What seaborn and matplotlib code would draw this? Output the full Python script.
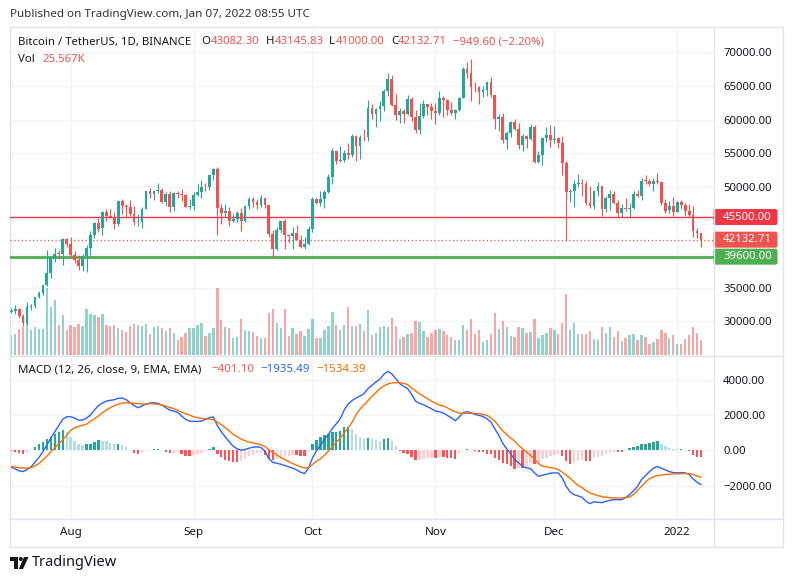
import matplotlib
matplotlib.use("Agg")
import matplotlib.pyplot as plt
import matplotlib.dates as mdates
import numpy as np
import pandas as pd
import seaborn as sns
from matplotlib.lines import Line2D
from matplotlib.patches import FancyBboxPatch, Polygon, Ellipse

# ---- values (BTCUSDT daily, Binance) ----
dates = pd.date_range("2021-07-17", "2022-01-07", freq="D")

opens = [
    31383, 31520, 31778, 30839, 29791, 32144, 32288, 33634, 34258, 35381, 37237, 39457, 40019, 40016, 42207,
    41461, 39850, 39146, 38208, 39744, 40866, 42833, 44614, 43794, 46280, 45596, 45553, 44429, 47833, 47110,
    47015, 45937, 44687, 44741, 46763, 49339, 48906, 49322, 49546, 47707, 48960, 46942, 49058, 48897, 48768, 46970,
    47100, 48810, 49247, 50000, 49918, 51757, 52666, 46864, 46049, 46395, 44842, 45174, 46026, 44950, 47103,
    48121, 47737, 47299, 48292, 47241, 43016, 40734, 43546, 44866, 42810, 42670, 43160, 42148, 41026, 41522,
    43790, 48165, 47658, 48233, 49244, 51494, 55339, 53802, 53930, 54963, 54691, 57485, 56006, 57370, 57347,
    61673, 60875, 61529, 62006, 64280, 66002, 62193, 60688, 61286, 60852, 63079, 60328, 58413, 60575, 62253, 61859,
    61300, 60911, 63220, 62896, 61396, 60941, 61470, 63274, 67526, 66947, 64883, 64774, 64122, 64380, 65520,
    63606, 60059, 60345, 56892, 58057, 59707, 58617, 56247, 57542, 57139, 58961, 53723, 54716, 57274, 57777,
    56950, 57185, 56485, 53602, 49153, 49397, 50441, 50589, 50471, 47536, 47141, 49389, 50053, 46702, 48336,
    48864, 47632, 46134, 46834, 46682, 46914, 48887, 48588, 50839, 50820, 50428, 50802, 50679, 47623, 46491, 47120,
    46217, 47722, 47286, 46446, 45832, 43451, 43082.30,
]
highs = [
    31955, 32435, 31899, 31063, 32858, 32591, 33650, 34500, 35398, 40550, 39542, 40900, 40640, 42316, 42448,
    42599, 40480, 39780, 39969, 41350, 43392, 44700, 45310, 46454, 46700, 46743, 46218, 47886, 48144, 47372,
    47995, 47160, 46000, 47033, 49382, 49757, 49500, 50500, 49870, 49230, 49369, 49183, 49309, 49658, 48925, 48246,
    49156, 50420, 51000, 50558, 51900, 52780, 52920, 47399, 47400, 47033, 45987, 46460, 46876, 47250, 48500,
    48550, 48180, 48843, 48370, 47359, 43639, 44000, 44978, 45200, 42966, 43950, 44350, 42787, 42590, 44132,
    48495, 48359, 49300, 49530, 51887, 55750, 55360, 56100, 55490, 56545, 57839, 57680, 57777, 58532, 62933,
    62350, 61720, 62695, 64486, 67000, 66639, 63732, 61747, 61500, 63710, 63293, 61497, 62499, 62980, 62359, 62405,
    62437, 64270, 63500, 63086, 62595, 61560, 63286, 67789, 68524, 69000, 65600, 65000, 64990, 65550, 66401,
    63617, 60840, 60977, 58320, 59846, 60029, 59444, 57875, 57700, 59398, 59150, 55280, 57445, 58865, 59176,
    59053, 57375, 57600, 53859, 49699, 50939, 51936, 51200, 50797, 50125, 49485, 50777, 50189, 48700, 49500,
    49436, 47995, 47392, 48300, 47537, 49328, 49576, 51375, 51810, 51156, 51280, 52088, 50704, 48139, 47900, 48548,
    47954, 47990, 47570, 47505, 47070, 43816, 43145.83,
]
lows = [
    31164, 31108, 30407, 29278, 29482, 31708, 31925, 33401, 33851, 35205, 36383, 38772, 39200, 38313, 41000,
    39422, 38690, 37642, 37508, 37332, 39853, 42450, 43261, 42779, 44977, 45342, 43770, 44217, 45971, 45525,
    45700, 44376, 44203, 43927, 46622, 48285, 48050, 49029, 47600, 47127, 46250, 46371, 48370, 47900, 46950, 46700,
    46513, 48620, 48316, 49400, 49500, 50969, 42843, 44412, 45513, 44132, 44722, 44743, 43371, 44750, 46700,
    47000, 46700, 47033, 46850, 42500, 39600, 40565, 43069, 40675, 41646, 40750, 42098, 40888, 40753, 41410,
    43283, 47451, 47120, 46891, 49057, 50382, 53357, 53617, 53661, 54112, 54416, 53879, 54167, 56818, 56850,
    60150, 58963, 59844, 61322, 63482, 62000, 60000, 59562, 59510, 60650, 59817, 58000, 57821, 60174, 60673, 60074,
    59405, 60624, 60382, 60677, 60721, 60050, 61322, 63273, 66222, 62822, 64100, 62250, 63400, 63576, 63400,
    58574, 58373, 56474, 55600, 57353, 58486, 55610, 55317, 55837, 57000, 53500, 53610, 53256, 56666, 55875,
    56458, 55777, 51680, 42000, 47727, 47000, 50039, 48600, 47320, 46852, 46751, 48638, 45672, 46290, 46547,
    47511, 45456, 45500, 46406, 45558, 46630, 48422, 48100, 50384, 50142, 49412, 50449, 47313, 46096, 46060, 45678,
    46208, 46654, 45697, 45502, 42500, 42430, 41000.00,
]
closes = [
    31520, 31778, 30839, 29791, 32144, 32287, 33634, 34258, 35381, 37237, 39457, 40019, 40016, 42206, 41461,
    39846, 39147, 38207, 39723, 40862, 42836, 44614, 43792, 46284, 45593, 45551, 44428, 47833, 47110, 47015,
    45936, 44686, 44741, 46763, 49339, 48905, 49321, 49546, 47706, 48960, 46942, 49058, 48897, 48767, 46970, 47100,
    48810, 49246, 49999, 49915, 51756, 52663, 46864, 46049, 46396, 44851, 45174, 46026, 44940, 47111, 48122,
    47737, 47299, 48292, 47241, 43015, 40734, 43543, 44865, 42810, 42670, 43160, 42148, 41026, 41522, 43790,
    48165, 47657, 48233, 49245, 51493, 55339, 53798, 53964, 54963, 54691, 57485, 56006, 57370, 57347, 61673,
    60875, 61528, 62010, 64280, 66001, 62193, 60688, 61286, 60852, 63078, 60328, 58413, 60575, 62253, 61859, 61299,
    60911, 63219, 62896, 61395, 60937, 61470, 63273, 67525, 66947, 64882, 64774, 64122, 64380, 65519, 63606,
    60058, 60344, 56891, 58052, 59707, 58622, 56247, 57541, 57138, 58960, 53726, 54721, 57274, 57776, 56950,
    57184, 56481, 53601, 49152, 49397, 50441, 50589, 50471, 47545, 47141, 49389, 50053, 46702, 48343, 48864,
    47632, 46131, 46834, 46681, 46914, 48889, 48588, 50838, 50821, 50429, 50809, 50640, 47588, 46464, 47120, 46216,
    47722, 47286, 46446, 45832, 43451, 43082, 42132.71,
]
# volume in thousands of BTC
volume_k = [
    33.6, 35.3, 44.8, 48.2, 54.5, 42.6, 47.7, 44.8, 44.8, 114.2, 82.3, 93.7, 51.1, 68.2, 42.6,
    51.1, 48.2, 52.8, 49.4, 78.4, 69.4, 68.2, 64.8, 69.9, 51.1, 49.9, 51.1, 46.0, 42.6, 39.2,
    49.4, 52.8, 50.6, 49.9, 52.8, 36.3, 47.7, 49.4, 46.0, 40.9, 46.0, 38.0, 25.6, 30.7, 38.0, 46.0,
    46.0, 51.1, 54.5, 32.4, 38.0, 46.0, 113.7, 59.7, 47.7, 46.5, 29.5, 30.7, 61.9, 42.1, 40.9,
    39.2, 32.4, 29.5, 28.5, 71.6, 78.4, 54.5, 46.0, 78.4, 32.4, 46.0, 35.8, 40.9, 32.4, 44.3,
    61.4, 29.0, 29.0, 42.6, 49.4, 73.3, 51.1, 42.6, 51.1, 81.8, 49.4, 49.4, 52.8, 40.9, 76.7,
    34.1, 37.5, 47.7, 49.4, 47.7, 63.1, 49.4, 27.3, 30.7, 35.8, 37.5, 58.0, 56.2, 40.9, 30.7, 37.5,
    42.6, 44.3, 40.9, 34.1, 30.7, 25.6, 25.6, 51.1, 42.6, 61.4, 35.8, 42.6, 22.2, 25.6, 35.8,
    71.6, 44.3, 58.0, 47.7, 32.4, 30.7, 47.7, 46.0, 37.5, 39.2, 61.4, 29.0, 34.1, 37.5, 46.0,
    42.6, 35.8, 54.5, 104.0, 42.6, 54.5, 35.8, 35.8, 35.8, 40.9, 27.3, 25.6, 47.7, 37.5, 47.7,
    30.7, 40.9, 23.9, 29.0, 34.1, 35.8, 25.6, 34.1, 30.7, 18.8, 22.2, 27.3, 42.6, 37.5, 29.0, 34.1,
    18.8, 18.8, 27.3, 34.1, 47.7, 37.5, 25.567,
]
macd_line = [
    -958, -1053, -1167, -1205, -1091, -939, -674, -409, -68, 311, 689, 1049, 1409, 1750, 1902,
    1902, 1826, 1712, 1712, 1826, 1996, 2280, 2527, 2678, 2790, 2830, 2868, 2943, 2962, 2868,
    2698, 2527, 2412, 2508, 2621, 2678, 2697, 2659, 2564, 2412, 2280, 2223, 2148, 1939, 1750, 1655,
    1636, 1636, 1655, 1750, 1850, 1890, 1400, 1050, 760, 481, 235, 83, 8, 45, 121,
    178, 197, 159, -49, -466, -693, -731, -788, -864, -939, -1015, -1110, -1242, -1318, -996,
    -428, -30, 292, 614, 898, 1238, 1504, 1788, 2280, 2621, 2820, 2962, 3076, 3209, 3493,
    3682, 3871, 4023, 4307, 4477, 4326, 4061, 3777, 3625, 3493, 3170, 2790, 2659, 2583, 2470, 2356,
    2223, 2185, 2110, 1977, 1845, 1674, 1883, 2129, 2185, 2129, 2034, 1977, 1920, 1788, 1598,
    1220, 841, 386, 83, -201, -523, -712, -902, -996, -1034, -1280, -1470, -1413, -1356, -1299,
    -1280, -1280, -1564, -2038, -2360, -2511, -2587, -2663, -2890, -3023, -2909, -2947, -2966, -2890, -2833,
    -2795, -2795, -2795, -2681, -2511, -2284, -2038, -1659, -1432, -1205, -1015, -920, -1015, -1110, -1205, -1261,
    -1280, -1261, -1280, -1356, -1621, -1811, -1935.49,
]
signal_line = [
    -902, -939, -996, -996, -1015, -977, -883, -750, -542, -333, -87, 140, 367, 595, 841,
    1125, 1277, 1352, 1409, 1485, 1636, 1788, 1939, 2129, 2280, 2412, 2527, 2602, 2678, 2697,
    2678, 2659, 2640, 2621, 2621, 2640, 2640, 2602, 2564, 2508, 2432, 2356, 2261, 2166, 2072, 1996,
    1901, 1845, 1807, 1788, 1769, 1731, 1598, 1447, 1295, 1106, 898, 765, 633, 538, 462,
    424, 367, 311, 216, 27, -125, -258, -409, -523, -636, -750, -845, -939, -996, -977,
    -807, -617, -485, -277, -49, 197, 443, 708, 973, 1277, 1586, 2034, 2337, 2583, 2811,
    3057, 3266, 3492, 3644, 3758, 3814, 3834, 3834, 3796, 3720, 3530, 3360, 3209, 3057, 2924, 2790,
    2678, 2564, 2508, 2412, 2280, 2185, 2110, 2091, 2091, 2091, 2091, 2072, 2034, 1977, 1826,
    1655, 1371, 1106, 879, 689, 519, 273, 83, -87, -295, -485, -750, -902, -939, -977,
    -1015, -1091, -1242, -1413, -1583, -1792, -1981, -2114, -2284, -2417, -2493, -2568, -2625, -2663, -2682,
    -2701, -2701, -2701, -2682, -2644, -2493, -2265, -2038, -1811, -1602, -1507, -1432, -1394, -1375, -1356, -1337,
    -1337, -1318, -1318, -1318, -1375, -1451, -1534.39,
]

month_starts = ["2021-08-01", "2021-09-01", "2021-10-01", "2021-11-01", "2021-12-01", "2022-01-01"]
month_labels = ["Aug", "Sep", "Oct", "Nov", "Dec", "2022"]
price_ticks = [30000, 35000, 40000, 45000, 50000, 55000, 60000, 65000, 70000]
hidden_price_labels = [40000, 45000]
macd_ticks = [-2000, 0, 2000, 4000]
level_resistance = 45500
level_support = 39600
last_close = 42132.71

UP, DOWN = "#26A69A", "#EF5350"
TEXT = "#131722"
GRID = "#F0F3FA"
BORDER = "#E0E3EB"
W, H = 793, 582

sns.set_theme(style="white")
plt.rcParams["font.family"] = ["Noto Sans", "DejaVu Sans"]

df = pd.DataFrame({"date": dates, "open": opens, "high": highs, "low": lows, "close": closes,
                   "vol": volume_k, "macd": macd_line, "signal": signal_line})
df["x"] = mdates.date2num(df["date"])
df["up"] = df["close"] >= df["open"]
df["hist"] = df["macd"] - df["signal"]
month_x = mdates.date2num(pd.to_datetime(month_starts))
x_lim = (df["x"].iloc[0] - 0.3, df["x"].iloc[0] + 177.2)
p_lim = (24970, 73478)


def fx(px):
    return px / W


def fy(py):
    return 1 - py / H


fig = plt.figure(figsize=(W / 100, H / 100), dpi=100)
fig.patch.set_facecolor("white")

main_rect = [fx(10), fy(355), fx(713.7) - fx(10), fy(29) - fy(355)]
ax_bg = fig.add_axes(main_rect, zorder=0)
ax = fig.add_axes(main_rect, zorder=2)
ax_vol = ax.twinx()
ax_vol.set_zorder(1)
ax_m = fig.add_axes([fx(10), fy(519), fx(713.7) - fx(10), fy(357) - fy(519)], zorder=1)

for a in (ax_bg, ax, ax_vol, ax_m):
    for s in a.spines.values():
        s.set_visible(False)
    a.set_xlim(*x_lim)
ax.patch.set_visible(False)
ax_vol.patch.set_visible(False)

# background grid + right price scale
ax_bg.set_ylim(*p_lim)
ax_bg.set_xticks(month_x)
ax_bg.set_yticks(price_ticks)
ax_bg.set_yticklabels(["" if t in hidden_price_labels else f"{t:.2f}" for t in price_ticks])
ax_bg.yaxis.tick_right()
ax_bg.tick_params(axis="y", length=0, pad=6.7, labelsize=8.2, labelcolor=TEXT)
ax_bg.tick_params(axis="x", length=0, labelbottom=False)
ax_bg.grid(True, color=GRID, lw=1)

# volume
ax_vol.set_ylim(0, 554)
ax_vol.bar(df["x"], df["vol"], width=0.6, color=np.where(df["up"], "#26A69A80", "#EF535080"), linewidth=0)
ax_vol.set_yticks([])
ax_vol.tick_params(length=0, labelbottom=False, labelright=False)

# candles and levels
ax.set_ylim(*p_lim)
ax.set_xticks([])
ax.set_yticks([])
ax.axhline(level_resistance, color="#F23645", lw=1, zorder=1)
ax.axhline(last_close, color="#EF5350", lw=0.9, ls=(0, (1, 2)), zorder=1)
ax.axhline(level_support, color="#4CAF50", lw=2, zorder=1)
candle_colors = np.where(df["up"], UP, DOWN)
ax.vlines(df["x"], df["low"], df["high"], colors=candle_colors, lw=0.8, zorder=2)
body = np.maximum((df["close"] - df["open"]).abs(), 120)
ax.bar(df["x"], body, bottom=np.minimum(df["open"], df["close"]), width=0.7,
       color=candle_colors, linewidth=0, zorder=3)

# MACD pane
prev = df["hist"].shift(1).fillna(df["hist"])
hist_colors = np.select(
    [(df["hist"] >= 0) & (df["hist"] >= prev), df["hist"] >= 0, df["hist"] > prev],
    ["#26A69A", "#B2DFDB", "#FFCDD2"], "#FF5252")
ax_m.set_axisbelow(True)
ax_m.bar(df["x"], df["hist"], width=0.6, color=hist_colors, linewidth=0)
sns.lineplot(data=df, x="x", y="macd", ax=ax_m, color="#2962FF", lw=1)
sns.lineplot(data=df, x="x", y="signal", ax=ax_m, color="#FF6D00", lw=1)
ax_m.set_xlim(*x_lim)
ax_m.set_ylim(-3892, 5286)
ax_m.set_xlabel("")
ax_m.set_ylabel("")
ax_m.set_yticks(macd_ticks)
ax_m.set_yticklabels([f"{t:.2f}".replace("-", "\u2212") for t in macd_ticks])
ax_m.yaxis.tick_right()
ax_m.tick_params(axis="y", length=0, pad=6.7, labelsize=8.2, labelcolor=TEXT)
ax_m.set_xticks(month_x)
ax_m.set_xticklabels(month_labels)
ax_m.tick_params(axis="x", length=0, pad=5.5, labelsize=8.4, labelcolor=TEXT)
ax_m.grid(True, color=GRID, lw=1)

# frame lines
for xs, ys in [((10, 783), (27, 27)), ((10, 783), (547, 547)), ((10, 10), (27, 547)),
               ((783, 783), (27, 547)), ((713.7, 713.7), (27, 547)),
               ((10, 783), (356, 356)), ((10, 783), (519, 519))]:
    fig.add_artist(Line2D([fx(xs[0]), fx(xs[1])], [fy(ys[0]), fy(ys[1])], color=BORDER, lw=1))

# price badges on the scale
for price, label, col in [(level_resistance, "45500.00", "#F23645"),
                          (last_close, "42132.71", "#EF5350"),
                          (level_support, "39600.00", "#4CAF50")]:
    yc = H - ax.transData.transform((x_lim[0], price))[1]
    fig.add_artist(FancyBboxPatch((fx(713.5), fy(yc + 8)), fx(64), 16 / H,
                                  boxstyle="round,pad=0,rounding_size=0.003",
                                  transform=fig.transFigure, fc=col, ec="none"))
    fig.text(fx(723), fy(yc), label, color="white", fontsize=8.2, va="center", ha="left")

# header and legends
renderer = fig.canvas.get_renderer()


def text_run(x, y, parts, size=8.2):
    for s, c in parts:
        t = fig.text(fx(x), fy(y), s, color=c, fontsize=size, va="center", ha="left")
        x += t.get_window_extent(renderer).width


fig.text(fx(10), fy(15), "Published on TradingView.com, Jan 07, 2022 08:55 UTC",
         color="#333333", fontsize=8.4, va="center", ha="left")
text_run(18.3, 42, [("Bitcoin / TetherUS, 1D, BINANCE", TEXT)])
text_run(201.7, 42, [("O", TEXT), ("43082.30", DOWN)])
text_run(266, 42, [("H", TEXT), ("43145.83", DOWN)])
text_run(329.3, 42, [("L", TEXT), ("41000.00", DOWN)])
text_run(391, 42, [("C", TEXT), ("42132.71", DOWN)])
text_run(453.3, 42, [("\u2212949.60 (\u22122.20%)", DOWN)])
text_run(18.3, 60, [("Vol", TEXT)])
text_run(42.3, 60, [("25.567K", DOWN)])
text_run(18.3, 370, [("MACD (12, 26, close, 9, EMA, EMA)", TEXT)], size=8.3)
text_run(211, 370, [("\u2212401.10", "#FF5252")], size=8.3)
text_run(260, 370, [("\u22121935.49", "#2962FF")], size=8.3)
text_run(316, 370, [("\u22121534.39", "#FF6D00")], size=8.3)

# footer logo
tr = fig.transFigure
fig.add_artist(Polygon([(fx(10), fy(557)), (fx(18), fy(557)), (fx(18), fy(569)), (fx(14.5), fy(569)),
                        (fx(14.5), fy(560.5)), (fx(10), fy(560.5))], closed=True, fc=TEXT, ec="none", transform=tr))
fig.add_artist(Ellipse((fx(20.8), fy(559)), fx(4), 4 / H, fc=TEXT, ec="none", transform=tr))
fig.add_artist(Polygon([(fx(24), fy(557)), (fx(28.5), fy(557)), (fx(23), fy(569)), (fx(18.8), fy(569))],
                       closed=True, fc=TEXT, ec="none", transform=tr))
fig.text(fx(32), fy(563), "TradingView", color=TEXT, fontsize=10.5, va="center", ha="left")

fig.savefig("out.png", dpi=100, facecolor="white")
